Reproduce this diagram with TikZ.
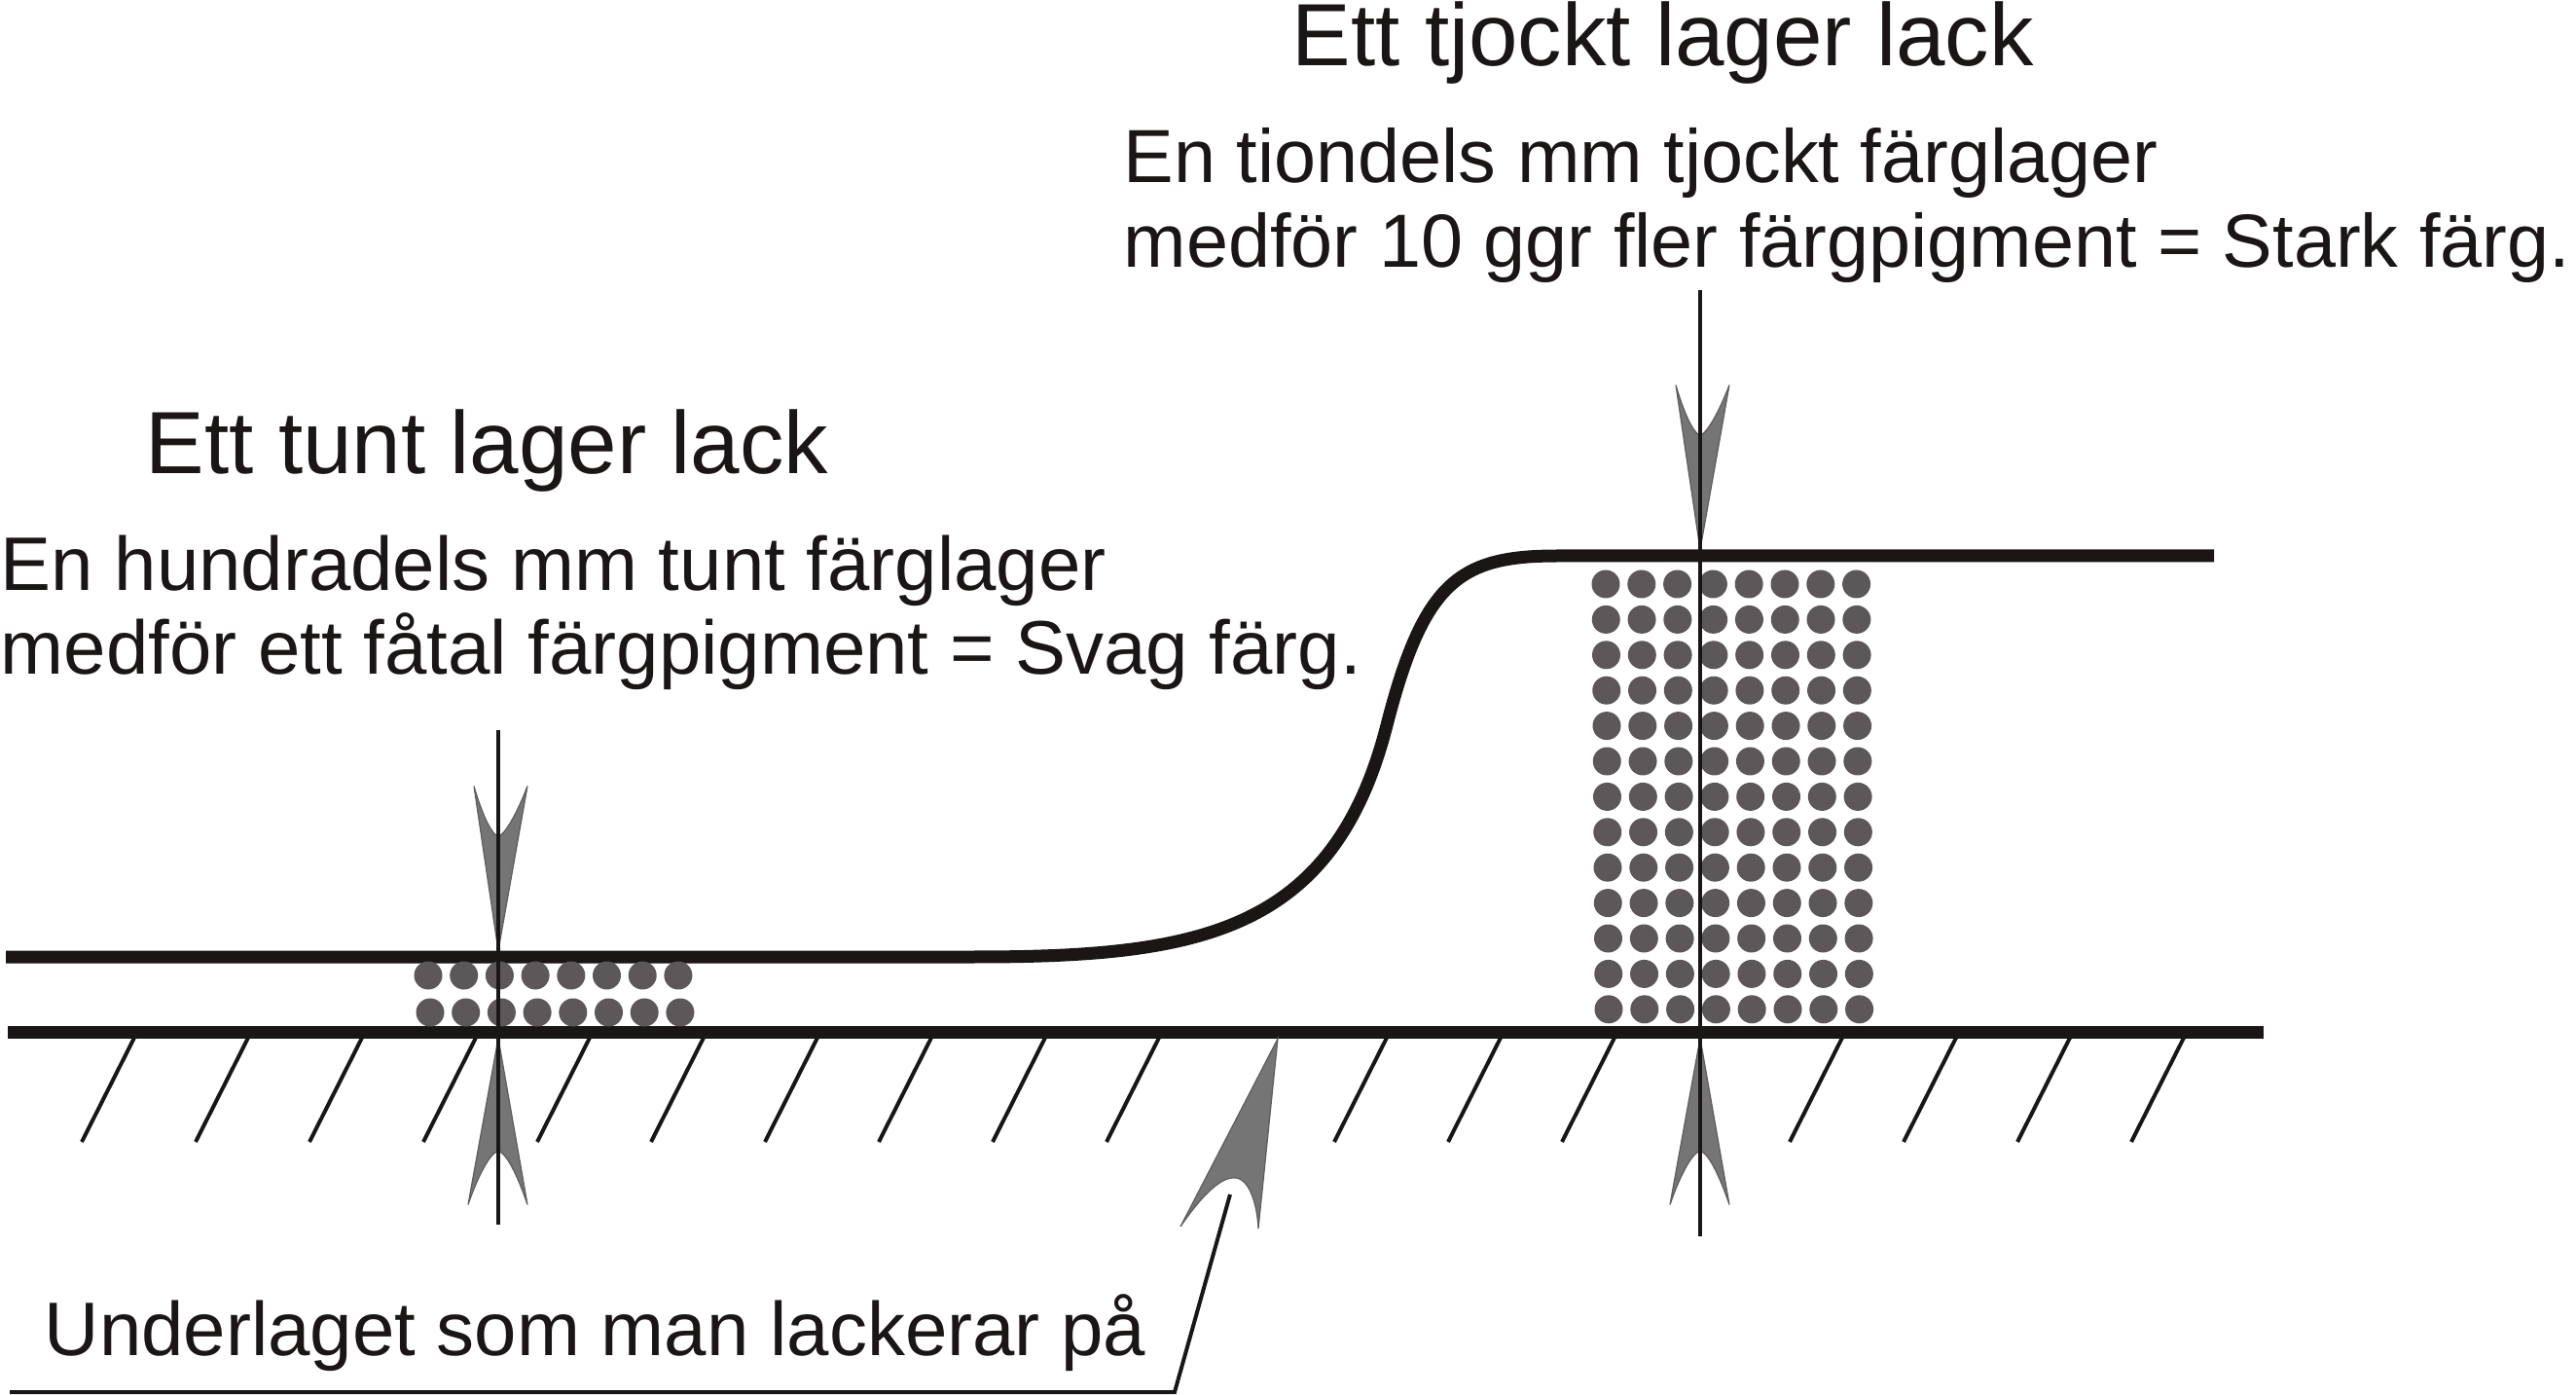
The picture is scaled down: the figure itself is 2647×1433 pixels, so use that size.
\documentclass[tikz,border=0pt]{standalone}
\usepackage{fontspec}
\setmainfont{Liberation Sans}
\definecolor{ink}{HTML}{1A1616}
\definecolor{dotgray}{HTML}{5C5759}
\definecolor{arrowgray}{HTML}{757575}
\tikzset{
  layer/.style={line width=3.25pt, draw=ink},
  hatch/.style={line width=1pt, draw=ink},
  gauge/.style={line width=0.9pt, draw=ink},
  leader/.style={line width=1pt, draw=ink},
  pigment/.style={fill=dotgray},
  spike/.style={fill=arrowgray, draw=ink!70, line width=0.3pt},
  titletext/.style={anchor=base west, inner sep=0pt, text=ink, font=\fontsize{22.7pt}{27pt}\selectfont},
  subtext/.style={anchor=base west, inner sep=0pt, text=ink, font=\fontsize{19.5pt}{23pt}\selectfont},
  subtextright/.style={subtext, font=\fontsize{19.35pt}{23pt}\selectfont},
}
\begin{document}
\begin{tikzpicture}[x=0.25pt,y=-0.25pt]
\useasboundingbox (0,0) rectangle (2647,1433);

% hatching of the substrate
\foreach \k in {0,1,2,3,4,5,6,7,8,9,11,12,13,15,16,17,18}
  \draw[hatch] ({138+117*\k},1066) -- ++(-54,107);

% substrate surface
\draw[layer] (8,1060) -- (2326,1060);

% lacquer surface
\draw[layer] (6,983) -- (1000,983)
  .. controls (1230,983) and (1370,959.5) .. (1425,745)
  .. controls (1463,597) and (1500,571) .. (1600,571) -- (2275,571);

% pigments, thin layer
\foreach \i in {0,...,7} {
  \fill[pigment] ({440+36.7*\i},1002) circle[radius=14.5];
  \fill[pigment] ({442+36.7*\i},1040) circle[radius=14.5];
}
% pigments, thick layer
\foreach \j in {0,...,12}
  \foreach \i in {0,...,7}
    \fill[pigment] ({1650+36.8*\i+0.25*\j},{600+36.4*\j}) circle[radius=14.5];

% gauge arrows, thin layer
\path[spike, shift={(512,976.5)}] (0,0) -- (-25,-169)
  .. controls (-19,-148) and (-9,-121) .. (0,-117)
  .. controls (9,-121) and (22,-148) .. (30,-169) -- cycle;
\path[spike, shift={(512,1066.5)}] (0,0) -- (-31,171)
  .. controls (-24,150) and (-10,118) .. (0,116)
  .. controls (10,118) and (23,150) .. (30,171) -- cycle;
% gauge arrows, thick layer
\path[spike, shift={(1747,564.5)}] (0,0) -- (-25,-169)
  .. controls (-19,-148) and (-9,-121) .. (0,-117)
  .. controls (9,-121) and (22,-148) .. (30,-169) -- cycle;
\path[spike, shift={(1747,1066.5)}] (0,0) -- (-31,171)
  .. controls (-24,150) and (-10,118) .. (0,116)
  .. controls (10,118) and (23,150) .. (30,171) -- cycle;

% gauge lines
\coordinate (thinTop) at (512,750);
\coordinate (thinBot) at (512,1258);
\coordinate (thickTop) at (1747,298);
\coordinate (thickBot) at (1747,1270);
\draw[gauge] (thinTop) -- (thinBot);
\draw[gauge] (thickTop) -- (thickBot);

% substrate pointer
\path[spike] (1313,1067) -- (1213,1260)
  .. controls (1235,1228) and (1255,1208) .. (1270,1210)
  .. controls (1285,1212) and (1292,1240) .. (1293,1262) -- cycle;
\coordinate (leadTop) at (1264,1227);
\coordinate (leadKnee) at (1207,1430);
\coordinate (leadEnd) at (10,1430);
\draw[leader] (leadTop) -- (leadKnee) -- (leadEnd);

% texts
\node[titletext] (thinTitle) at (149,487) {Ett tunt lager lack};
\node[subtext] (thinA) at (0,607) {En hundradels mm tunt färglager};
\node[subtext] (thinB) at (0,693) {medför ett fåtal färgpigment = Svag färg.};
\node[titletext] (thickTitle) at (1327,68) {Ett tjockt lager lack};
\node[subtextright] (thickA) at (1154,188) {En tiondels mm tjockt färglager};
\node[subtextright] (thickB) at (1154,275) {medför 10 ggr fler färgpigment = Stark färg.};
\node[subtext] (baseText) at (45,1392) {Underlaget som man lackerar på};
\end{tikzpicture}
\end{document}
